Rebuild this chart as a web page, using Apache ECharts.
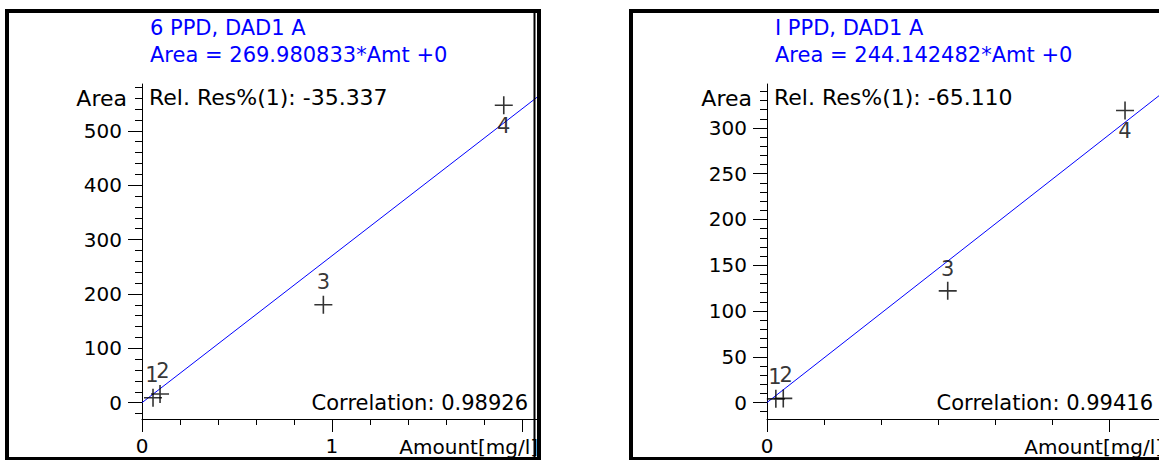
<!DOCTYPE html>
<html>
<head>
<meta charset="utf-8">
<script src="https://cdn.jsdelivr.net/npm/echarts@6/dist/echarts.min.js"></script>
<style>
html,body{margin:0;padding:0;background:#fff;}
#chart{width:1159px;height:460px;}
</style>
</head>
<body>
<div id="chart"></div>
<script>
// ---- data ----
const pointLabels = ['1', '2', '3', '4'];

const leftName = '6 PPD, DAD1 A';
const leftSlope = 269.980833;
const leftRelRes = '-35.337';
const leftCorr = '0.98926';
const leftX = [0.058, 0.095, 0.955, 1.905];
const leftY = [9, 16, 180, 547];

const rightName = 'I PPD, DAD1 A';
const rightSlope = 244.142482;
const rightRelRes = '-65.110';
const rightCorr = '0.99416';
const rightX = [0.031, 0.057, 0.633, 1.254];
const rightY = [4, 4.5, 122, 319];

// axis ranges and ticks
const leftXMin = 0, leftXMax = 2.08;
const leftYMin = -30, leftYMax = 586;
const leftXMajor = [0, 1, 2];
const leftXLabels = [0, 1];
const leftYMajor = [0, 100, 200, 300, 400, 500];

const rightXMin = 0, rightXMax = 1.373;
const rightYMin = -18, rightYMax = 348;
const rightXMajor = [0, 1.2];
const rightXLabels = [0];
const rightYMajor = [0, 50, 100, 150, 200, 250, 300];

const xAxisName = 'Amount[mg/l]';
const yAxisName = 'Area';

// helpers
function steps(from, to, step) {
  const out = [];
  const n = Math.round((to - from) / step);
  for (let i = 0; i <= n; i++) out.push(+(from + i * step).toFixed(6));
  return out;
}
const leftXMinor = steps(0, 2, 0.2);
const leftYMinor = steps(-20, 580, 20);
const rightXMinor = steps(0, 1.2, 0.2);
const rightYMinor = steps(-10, 340, 10);

const FONT = 'DejaVu Sans';
const BLACK = '#000000';
const BLUE = '#0000ff';

function xAxes(grid, min, max, major, minor, labels) {
  return [
    {
      type: 'value', gridIndex: grid, min: min, max: max, position: 'bottom',
      axisLine: { show: true, onZero: false, lineStyle: { color: BLACK, width: 1 } },
      axisTick: { show: true, length: 13, customValues: major, lineStyle: { color: BLACK, width: 1 } },
      axisLabel: { show: true, customValues: labels, margin: 17, color: BLACK, fontSize: 20, fontFamily: FONT },
      splitLine: { show: false }
    },
    {
      type: 'value', gridIndex: grid, min: min, max: max, position: 'bottom',
      axisLine: { show: false, onZero: false },
      axisTick: { show: true, length: 6, customValues: minor, lineStyle: { color: BLACK, width: 1 } },
      axisLabel: { show: false },
      splitLine: { show: false }
    }
  ];
}
function yAxes(grid, min, max, major, minor) {
  return [
    {
      type: 'value', gridIndex: grid, min: min, max: max, position: 'left',
      axisLine: { show: true, onZero: false, lineStyle: { color: BLACK, width: 1 } },
      axisTick: { show: true, length: 14, customValues: major, lineStyle: { color: BLACK, width: 1 } },
      axisLabel: { show: true, customValues: major, margin: 20, color: BLACK, fontSize: 20, fontFamily: FONT },
      splitLine: { show: false }
    },
    {
      type: 'value', gridIndex: grid, min: min, max: max, position: 'left',
      axisLine: { show: false, onZero: false },
      axisTick: { show: true, length: 7, customValues: minor, lineStyle: { color: BLACK, width: 1 } },
      axisLabel: { show: false },
      splitLine: { show: false }
    }
  ];
}

function pts(xs, ys) { return xs.map((x, i) => [x, ys[i]]); }

const labelPos = ['top', 'top', 'top', 'bottom'];
const labelShift = [[-1, 0], [3, -1], [0, 0], [0, 0]];
function scatterSeries(axisIdx, xs, ys) {
  return {
    type: 'scatter', xAxisIndex: axisIdx, yAxisIndex: axisIdx,
    symbol: 'path://M9,0L9,18M0,9L18,9', symbolSize: 18,
    itemStyle: { color: 'transparent', borderColor: BLACK, borderWidth: 1.6 },
    data: pts(xs, ys).map((p, i) => ({
      value: p,
      label: { show: true, position: labelPos[i], distance: labelPos[i] === 'top' ? 2 : 0,
               offset: labelShift[i],
               formatter: pointLabels[i], color: BLACK, fontSize: 21, fontFamily: FONT }
    })),
    emphasis: { disabled: true }, silent: true, z: 3
  };
}
function fitSeries(axisIdx, slope, xMax) {
  return {
    type: 'line', xAxisIndex: axisIdx, yAxisIndex: axisIdx,
    data: [[0, 0], [xMax, slope * xMax]],
    showSymbol: false, symbol: 'none', clip: true,
    lineStyle: { color: BLUE, width: 1 },
    emphasis: { disabled: true }, silent: true, z: 2
  };
}

function txt(x, y, text, opts) {
  return {
    type: 'text', z: 10, silent: true,
    style: Object.assign({ x: x, y: y, text: text, fill: BLACK, fontSize: 21, fontFamily: FONT,
                           textAlign: 'left', textVerticalAlign: 'middle' }, opts || {})
  };
}

const chart = echarts.init(document.getElementById('chart'), null, { renderer: 'svg' });
chart.setOption({
  animation: false,
  backgroundColor: '#ffffff',
  grid: [
    { left: 142, top: 84, width: 395, bottom: 41 },
    { left: 767, top: 84, width: 394, bottom: 41 }
  ],
  xAxis: xAxes(0, leftXMin, leftXMax, leftXMajor, leftXMinor, leftXLabels)
    .concat(xAxes(1, rightXMin, rightXMax, rightXMajor, rightXMinor, rightXLabels)),
  yAxis: yAxes(0, leftYMin, leftYMax, leftYMajor, leftYMinor)
    .concat(yAxes(1, rightYMin, rightYMax, rightYMajor, rightYMinor)),
  series: [
    fitSeries(0, leftSlope, leftXMax),
    scatterSeries(0, leftX, leftY),
    fitSeries(2, rightSlope, rightXMax),
    scatterSeries(2, rightX, rightY)
  ],
  graphic: [
    // left panel texts
    txt(150, 28, leftName, { fill: BLUE }),
    txt(150, 55, 'Area = ' + leftSlope.toFixed(6) + '*Amt +0', { fill: BLUE }),
    txt(127, 98, yAxisName, { textAlign: 'right', fontSize: 22 }),
    txt(149, 97, 'Rel. Res%(1): ' + leftRelRes, { fontSize: 22 }),
    txt(528, 403, 'Correlation: ' + leftCorr, { textAlign: 'right' }),
    txt(538, 447, xAxisName, { textAlign: 'right', fontSize: 20 }),
    // right panel texts
    txt(775, 28, rightName, { fill: BLUE }),
    txt(775, 55, 'Area = ' + rightSlope.toFixed(6) + '*Amt +0', { fill: BLUE }),
    txt(752, 98, yAxisName, { textAlign: 'right', fontSize: 22 }),
    txt(774, 97, 'Rel. Res%(1): ' + rightRelRes, { fontSize: 22 }),
    txt(1153, 403, 'Correlation: ' + rightCorr, { textAlign: 'right' }),
    txt(1163, 447, xAxisName, { textAlign: 'right', fontSize: 20 }),
    // panel frames
    { type: 'rect', z: 20, silent: true, shape: { x: 7, y: 11, width: 532, height: 448 },
      style: { fill: 'none', stroke: BLACK, lineWidth: 4 } },
    { type: 'line', z: 20, silent: true, shape: { x1: 534.5, y1: 13, x2: 534.5, y2: 460 },
      style: { stroke: BLACK, lineWidth: 2 } },
    { type: 'rect', z: 20, silent: true, shape: { x: 631, y: 11, width: 532, height: 448 },
      style: { fill: 'none', stroke: BLACK, lineWidth: 4 } }
  ]
});
</script>
</body>
</html>
